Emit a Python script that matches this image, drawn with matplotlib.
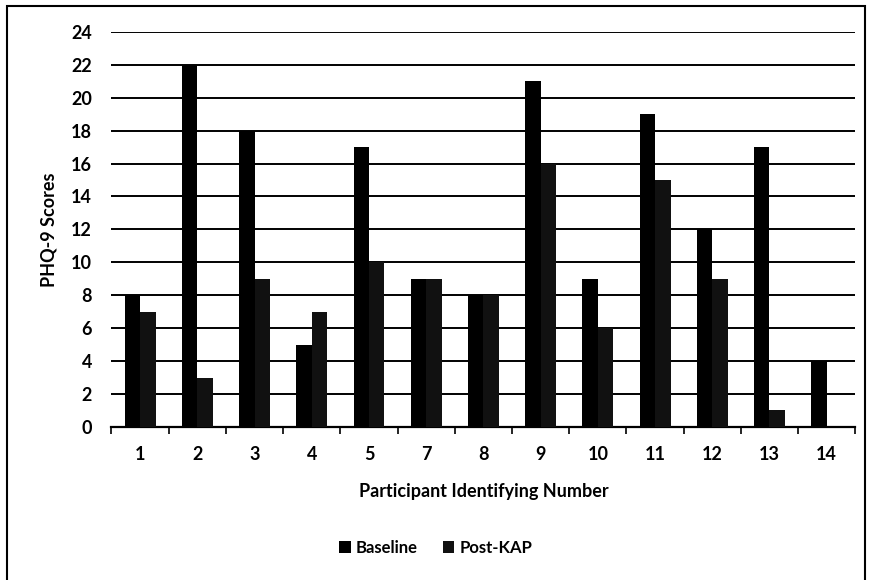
import numpy as np
import matplotlib.pyplot as plt
from matplotlib.patches import Rectangle

participants = ['1', '2', '3', '4', '5', '7', '8', '9', '10', '11', '12', '13', '14']
baseline = [8, 22, 18, 5, 17, 9, 8, 21, 9, 19, 12, 17, 4]
post_kap = [7, 3, 9, 7, 10, 9, 8, 16, 6, 15, 9, 1, 0]

plt.rcParams['font.family'] = ['Lato', 'DejaVu Sans']
plt.rcParams['font.weight'] = 'bold'

fig = plt.figure(figsize=(8.71, 5.8), dpi=100)
ax = fig.add_axes([0.128, 0.264, 0.854, 0.681])

x = np.arange(len(participants))
w = 0.27
ax.bar(x - w / 2, baseline, w, color='black', label='Baseline', zorder=3)
ax.bar(x + w / 2, post_kap, w, color='#111111', label='Post-KAP', zorder=3)

ax.set_xlim(-0.5, len(participants) - 0.5)
ax.set_ylim(0, 24)
ax.set_yticks(range(0, 25, 2))
ax.yaxis.grid(True, color='black', linewidth=1.4, zorder=0)
ax.tick_params(axis='y', length=0, labelsize=13, pad=14)
ax.set_xticks(x)
ax.set_xticklabels(participants)
ax.tick_params(axis='x', length=0, labelsize=13, pad=14)
# small separator ticks between the participant groups
ax.set_xticks(np.arange(-0.5, len(participants), 1), minor=True)
ax.tick_params(axis='x', which='minor', length=5, width=1.2, direction='out')

for side in ['top', 'right', 'left']:
    ax.spines[side].set_visible(False)
ax.spines['bottom'].set_linewidth(1.6)

ax.set_ylabel('PHQ-9 Scores', fontsize=13, fontweight='bold', labelpad=10)
ax.set_xlabel('Participant Identifying Number', fontsize=13, fontweight='bold', labelpad=14)

fig.legend(loc='center', bbox_to_anchor=(0.5, 0.055), ncol=2, frameon=False,
           fontsize=12, handlelength=0.7, handleheight=0.7, columnspacing=1.5,
           handletextpad=0.3)

fig.patches.append(Rectangle((0.008, -0.01), 0.985, 1.0, transform=fig.transFigure,
                             fill=False, edgecolor='black', linewidth=1.5))

fig.savefig('out.png', dpi=100)
